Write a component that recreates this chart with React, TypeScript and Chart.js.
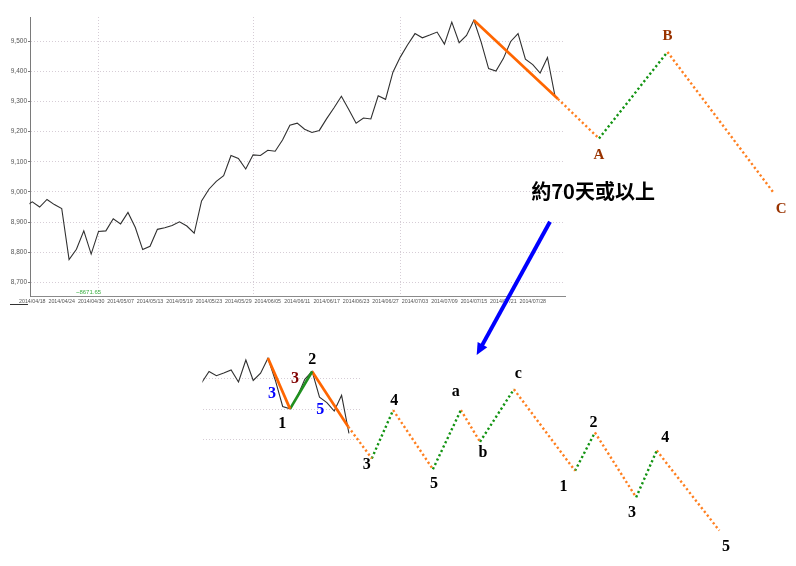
import React, { useEffect, useRef } from 'react';
import { Chart, registerables } from 'chart.js';

Chart.register(...registerables);

// ---------- data ----------
const dates = [
  '2014/04/18', '2014/04/21', '2014/04/22', '2014/04/23', '2014/04/24', '2014/04/25', '2014/04/28', '2014/04/29', '2014/04/30', '2014/05/02',
  '2014/05/05', '2014/05/06', '2014/05/07', '2014/05/08', '2014/05/09', '2014/05/12', '2014/05/13', '2014/05/14', '2014/05/15', '2014/05/16',
  '2014/05/19', '2014/05/20', '2014/05/21', '2014/05/22', '2014/05/23', '2014/05/26', '2014/05/27', '2014/05/28', '2014/05/29', '2014/05/30',
  '2014/06/03', '2014/06/04', '2014/06/05', '2014/06/06', '2014/06/09', '2014/06/10', '2014/06/11', '2014/06/12', '2014/06/13', '2014/06/16',
  '2014/06/17', '2014/06/18', '2014/06/19', '2014/06/20', '2014/06/23', '2014/06/24', '2014/06/25', '2014/06/26', '2014/06/27', '2014/06/30',
  '2014/07/01', '2014/07/02', '2014/07/03', '2014/07/04', '2014/07/07', '2014/07/08', '2014/07/09', '2014/07/10', '2014/07/11', '2014/07/14',
  '2014/07/15', '2014/07/16', '2014/07/17', '2014/07/18', '2014/07/21', '2014/07/22', '2014/07/24', '2014/07/25', '2014/07/28', '2014/07/29',
  '2014/07/30', '2014/07/31',
];

const closes = [
  8967, 8950, 8975, 8958, 8945, 8776, 8810, 8871, 8794, 8869,
  8871, 8911, 8894, 8932, 8882, 8809, 8820, 8876, 8881, 8889,
  8901, 8887, 8863, 8970, 9009, 9035, 9054, 9121, 9111, 9076,
  9123, 9121, 9138, 9135, 9172, 9221, 9228, 9208, 9197, 9204,
  9243, 9279, 9317, 9273, 9228, 9245, 9242, 9319, 9307, 9397,
  9447, 9488, 9525, 9511, 9520, 9530, 9490, 9563, 9495, 9519,
  9569, 9496, 9409, 9401, 9442, 9499, 9525, 9440, 9422, 9394,
  9446, 9320,
];
const prevClose = 8952; // 2014/04/17, only its segment into the plot shows

const yTicks = [8700, 8800, 8900, 9000, 9100, 9200, 9300, 9400, 9500];
const miniYTicks = [9300, 9400, 9500];
const lowMarkText = '~8671.65';

// upper projection: peak -> A -> B -> C  (x = trading-day index, y = index level)
const upperWaveX = [60, 71.4, 77, 86.3, 100.8];
const upperWaveY = [9569, 9309, 9177, 9464, 8995];
const upperWaveLabels = ['', '', 'A', 'B', 'C'];
const upperActualLegs = 1;

// lower diagram: impulse / a-b-c / impulse
const lowerWaveX = [60, 63, 66, 70.9, 74.1, 77, 82.4, 86.2, 88.8, 93.4, 101.7, 104.4, 110, 112.8, 121.3];
const lowerWaveY = [9569, 9401, 9525, 9342, 9237, 9397, 9201, 9397, 9292, 9466, 9196, 9323, 9108, 9263, 8998];
const lowerWaveLabels = ['', '1', '2', '', '3', '4', '5', 'a', 'b', 'c', '1', '2', '3', '4', '5'];
const lowerLegLabels = ['3', '3', '5'];
const lowerActualLegs = 3;

const noteText = '約70天或以上';
const noteAt = { x: 76.2, y: 9003 };
const arrowFrom = { x: 70.34, y: 8901 };
const arrowTo = { x: 60.38, y: 8459 };
const lowMarkAt = { x: 7.64, y: 8666 };

// ---------- styles ----------
const W = 796;
const H = 566;
const ORANGE = '#ff6600';
const ORANGE_DOT = '#ff7f1f';
const GREEN = '#1f8f1f';
const GREEN_DOT = '#129312';
const DOTS = [2.2, 2.6];
const GRID = '#d6cdd6';
const Y_FONT = { family: '"Liberation Sans", sans-serif', size: 6.5 };
const X_FONT = { family: '"Liberation Sans", sans-serif', size: 5.3 };

const upperLabelOffsets: Record<number, [number, number]> = { 2: [0, 17], 3: [0, -16], 4: [7, 16] };
const lowerLabelOffsets: Record<number, [number, number]> = {
  1: [-7.7, 15.4], 2: [0.2, -11.4], 4: [-5, 6.6], 5: [1, -9.4], 6: [1.2, 14.7], 7: [-5.1, -17.8],
  8: [2.8, 10.9], 9: [4.3, -15.3], 10: [-11.5, 16.5], 11: [-1.4, -9.1], 12: [-4.2, 15.9], 13: [8.5, -12.3], 14: [6.6, 16.1],
};
const legLabelOffsets: [number, number][] = [[-7, 10], [-6, -11], [-10, 11]];
const legLabelColors = ['#0000ff', '#800000', '#0000ff'];

const fixRange = (min: number, max: number) => (s: any) => {
  s.min = min;
  s.max = max;
};

function legDatasets(xs: number[], ys: number[], actualLegs: number) {
  const out: any[] = [];
  for (let k = 0; k < xs.length - 1; k++) {
    const down = ys[k + 1] < ys[k];
    const projected = k >= actualLegs;
    out.push({
      data: [{ x: xs[k], y: ys[k] }, { x: xs[k + 1], y: ys[k + 1] }],
      borderColor: projected ? (down ? ORANGE_DOT : GREEN_DOT) : down ? ORANGE : GREEN,
      borderWidth: projected ? 2.4 : 2.7,
      borderDash: projected ? DOTS : [],
      borderCapStyle: 'butt',
      pointRadius: 0,
      clip: false,
      order: 0,
      xAxisID: 'x',
      yAxisID: 'y',
    });
  }
  return out;
}

function pricePoints() {
  return [{ x: -1, y: prevClose }, ...closes.map((v, i) => ({ x: i, y: v }))];
}

const labelIdx = dates.map((_, i) => i).filter((i) => i % 4 === 0);
const monthStarts = dates
  .map((d, i) => i)
  .filter((i) => i > 0 && dates[i].slice(5, 7) !== dates[i - 1].slice(5, 7));

export default function App() {
  const mainRef = useRef<HTMLCanvasElement | null>(null);
  const miniRef = useRef<HTMLCanvasElement | null>(null);

  useEffect(() => {
    if (!mainRef.current || !miniRef.current) return;

    const mainDecor = {
      id: 'mainDecor',
      afterDatasetsDraw(chart: any) {
        const { ctx } = chart;
        const sx = chart.scales.x;
        const sy = chart.scales.y;
        ctx.save();
        ctx.textAlign = 'center';
        ctx.textBaseline = 'middle';
        // wave letters
        ctx.font = 'bold 15px "Liberation Serif", serif';
        ctx.fillStyle = '#993300';
        upperWaveLabels.forEach((t, k) => {
          if (!t) return;
          const off = upperLabelOffsets[k] || [0, 0];
          ctx.fillText(t, sx.getPixelForValue(upperWaveX[k]) + off[0], sy.getPixelForValue(upperWaveY[k]) + off[1]);
        });
        // note
        ctx.font = 'bold 20px "Noto Sans CJK TC", sans-serif';
        ctx.fillStyle = '#000';
        ctx.fillText(noteText, sx.getPixelForValue(noteAt.x), sy.getPixelForValue(noteAt.y));
        // low marker
        ctx.font = '6px "Liberation Sans", sans-serif';
        ctx.fillStyle = '#3cb043';
        ctx.fillText(lowMarkText, sx.getPixelForValue(lowMarkAt.x), sy.getPixelForValue(lowMarkAt.y));
        // small marks under the axis
        ctx.strokeStyle = '#333';
        ctx.lineWidth = 1;
        const yb = chart.chartArea.bottom + 8.5;
        ctx.beginPath();
        ctx.moveTo(10, yb);
        ctx.lineTo(28, yb);
        ctx.stroke();
        // arrow
        const x0 = sx.getPixelForValue(arrowFrom.x);
        const y0 = sy.getPixelForValue(arrowFrom.y);
        const x1 = sx.getPixelForValue(arrowTo.x);
        const y1 = sy.getPixelForValue(arrowTo.y);
        const len = Math.hypot(x1 - x0, y1 - y0);
        const ux = (x1 - x0) / len;
        const uy = (y1 - y0) / len;
        const headL = 12;
        const headW = 5.5;
        ctx.strokeStyle = '#0000ff';
        ctx.fillStyle = '#0000ff';
        ctx.lineWidth = 4;
        ctx.beginPath();
        ctx.moveTo(x0, y0);
        ctx.lineTo(x1 - ux * (headL - 2), y1 - uy * (headL - 2));
        ctx.stroke();
        ctx.beginPath();
        ctx.moveTo(x1, y1);
        ctx.lineTo(x1 - ux * headL - uy * headW, y1 - uy * headL + ux * headW);
        ctx.lineTo(x1 - ux * headL + uy * headW, y1 - uy * headL - ux * headW);
        ctx.closePath();
        ctx.fill();
        ctx.restore();
      },
    };

    const miniDecor = {
      id: 'miniDecor',
      afterDatasetsDraw(chart: any) {
        const { ctx } = chart;
        const sx = chart.scales.x;
        const sy = chart.scales.y;
        ctx.save();
        ctx.textAlign = 'center';
        ctx.textBaseline = 'middle';
        ctx.font = 'bold 16px "Liberation Serif", serif';
        ctx.fillStyle = '#000';
        lowerWaveLabels.forEach((t, k) => {
          if (!t) return;
          const off = lowerLabelOffsets[k] || [0, 0];
          ctx.fillText(t, sx.getPixelForValue(lowerWaveX[k]) + off[0], sy.getPixelForValue(lowerWaveY[k]) + off[1]);
        });
        lowerLegLabels.forEach((t, k) => {
          const mx = (sx.getPixelForValue(lowerWaveX[k]) + sx.getPixelForValue(lowerWaveX[k + 1])) / 2;
          const my = (sy.getPixelForValue(lowerWaveY[k]) + sy.getPixelForValue(lowerWaveY[k + 1])) / 2;
          ctx.fillStyle = legLabelColors[k];
          ctx.fillText(t, mx + legLabelOffsets[k][0], my + legLabelOffsets[k][1]);
        });
        ctx.restore();
      },
    };

    const priceLine = {
      data: pricePoints(),
      borderColor: '#303030',
      borderWidth: 1.1,
      pointRadius: 0,
      tension: 0,
      order: 1,
      xAxisID: 'x',
      yAxisID: 'y',
    };

    const main = new Chart(mainRef.current, {
      type: 'line',
      data: { datasets: [priceLine, ...legDatasets(upperWaveX, upperWaveY, upperActualLegs)] as any },
      options: {
        responsive: false,
        animation: false,
        devicePixelRatio: 1,
        events: [],
        layout: { padding: { left: 0, top: 17, right: 231, bottom: 250 } },
        plugins: { legend: { display: false }, tooltip: { enabled: false } },
        scales: {
          x: {
            type: 'linear',
            position: 'bottom',
            bounds: 'data',
            afterDataLimits: fixRange(-0.31, 72.38),
            afterBuildTicks: (s: any) => {
              s.ticks = labelIdx.map((v) => ({ value: v }));
            },
            afterFit: (s: any) => {
              s.height = 20;
            },
            ticks: {
              autoSkip: false,
              maxRotation: 0,
              minRotation: 0,
              padding: 2,
              color: '#555',
              font: X_FONT,
              callback: (v: any) => dates[v as number] ?? '',
            },
            grid: { display: true, drawOnChartArea: false, drawTicks: false },
            border: { display: true, color: '#8a8a8a', width: 1 },
          },
          xm: {
            type: 'linear',
            position: 'bottom',
            bounds: 'data',
            afterDataLimits: fixRange(-0.31, 72.38),
            afterBuildTicks: (s: any) => {
              s.ticks = monthStarts.map((v) => ({ value: v }));
            },
            afterFit: (s: any) => {
              s.height = 0;
            },
            ticks: { display: false },
            grid: { color: GRID, lineWidth: 1, drawTicks: false },
            border: { display: false, dash: [1, 2] },
          },
          y: {
            type: 'linear',
            position: 'left',
            bounds: 'data',
            afterDataLimits: fixRange(8655, 9580),
            afterBuildTicks: (s: any) => {
              s.ticks = yTicks.map((v) => ({ value: v }));
            },
            afterFit: (s: any) => {
              s.width = 30;
            },
            ticks: {
              padding: 1,
              color: '#555',
              font: Y_FONT,
              callback: (v: any) => Number(v).toLocaleString('en-US'),
            },
            grid: { color: GRID, lineWidth: 1, drawTicks: true, tickLength: 2, tickColor: '#777' },
            border: { display: true, color: '#7a7a7a', width: 1, dash: [1, 2] },
          },
        } as any,
      },
      plugins: [mainDecor],
    });

    const mini = new Chart(miniRef.current, {
      type: 'line',
      data: { datasets: [{ ...priceLine, data: pricePoints() }, ...legDatasets(lowerWaveX, lowerWaveY, lowerActualLegs)] as any },
      options: {
        responsive: false,
        animation: false,
        devicePixelRatio: 1,
        events: [],
        layout: { padding: { left: 203, right: 436, top: 352, bottom: 114.5 } },
        plugins: { legend: { display: false }, tooltip: { enabled: false } },
        scales: {
          x: {
            type: 'linear',
            display: false,
            bounds: 'data',
            afterDataLimits: fixRange(51.18, 72.5),
          },
          y: {
            type: 'linear',
            position: 'left',
            bounds: 'data',
            afterDataLimits: fixRange(9259.9, 9589.4),
            afterBuildTicks: (s: any) => {
              s.ticks = miniYTicks.map((v) => ({ value: v }));
            },
            afterFit: (s: any) => {
              s.width = 0;
            },
            ticks: { display: false },
            grid: { color: GRID, lineWidth: 1, drawTicks: false },
            border: { display: false, dash: [1, 2] },
          },
        } as any,
      },
      plugins: [miniDecor],
    });

    return () => {
      main.destroy();
      mini.destroy();
    };
  }, []);

  const canvasStyle: React.CSSProperties = { position: 'absolute', left: 0, top: 0, width: W, height: H };
  return (
    <div style={{ position: 'fixed', left: 0, top: 0, width: W, height: H, background: '#fff' }}>
      <canvas ref={mainRef} width={W} height={H} style={canvasStyle} />
      <canvas ref={miniRef} width={W} height={H} style={canvasStyle} />
    </div>
  );
}
